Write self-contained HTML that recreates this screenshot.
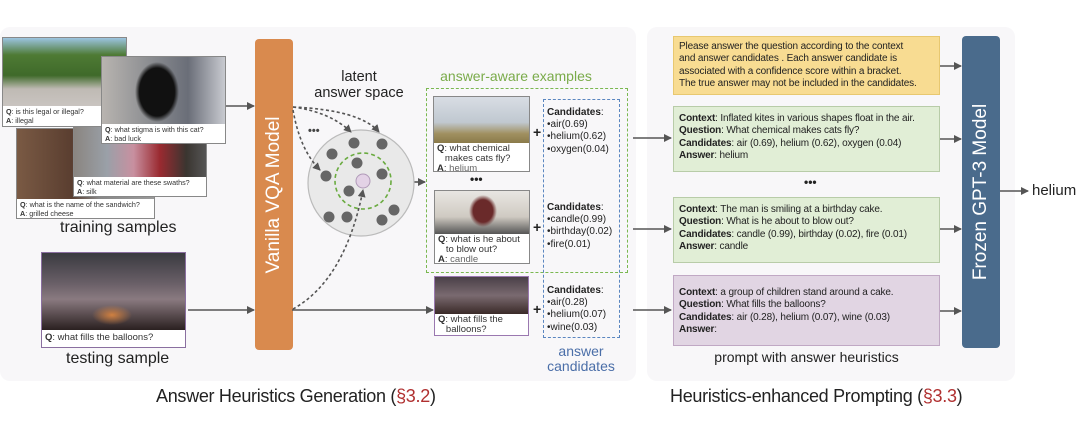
<!DOCTYPE html>
<html><head><meta charset="utf-8"><style>
*{margin:0;padding:0;box-sizing:border-box}
body{width:1080px;height:434px;background:#fff;position:relative;overflow:hidden;font-family:"Liberation Sans",Arial,sans-serif;color:#222}
.a{position:absolute}
.ph{position:absolute;border:1.5px solid #888;background:#fff;overflow:hidden}
.ph .img{position:absolute;left:0;top:0;right:0}
.ph .t{position:absolute;left:3px;font-size:7.2px;line-height:8.5px;color:#333;white-space:nowrap}
.box{position:absolute;font-size:10px;line-height:12.4px;padding:6px 5px;color:#222;white-space:nowrap;letter-spacing:-0.15px}
.bar{position:absolute;color:#fff;border-radius:4px}
.bar span{position:absolute;left:50%;top:50%;transform:translate(-50%,-50%) rotate(-90deg);white-space:nowrap;font-size:19px}
.cand{position:absolute;font-size:10px;line-height:12.2px;color:#222}
</style></head><body>
<div class="a" style="left:0;top:27px;width:636px;height:354px;background:#f8f7f9;border-radius:10px"></div>
<div class="a" style="left:647px;top:27px;width:368px;height:354px;background:#f8f7f9;border-radius:10px"></div>

<div class="ph" style="left:2px;top:37px;width:125px;height:90px"><div class="img" style="height:68px;background:linear-gradient(180deg,#9cc4e0 0%,#4e7a34 25%,#3f6a2a 55%,#bfbab4 75%,#c9c4c0 100%)"></div><div class="t" style="top:70px"><b>Q</b>: is this legal or illegal?<br><b>A</b>: illegal</div></div>
<div class="ph" style="left:16px;top:128px;width:139px;height:91px"><div class="img" style="height:70px;background:linear-gradient(90deg,#7a5a44,#5a3e30 40%,#888 60%,#9a9a9a)"></div><div class="t" style="top:72px"><b>Q</b>: what is the name of the sandwich?<br><b>A</b>: grilled cheese</div></div>
<div class="ph" style="left:73px;top:126px;width:134px;height:71px"><div class="img" style="height:50px;background:linear-gradient(90deg,#8a8580,#9aa0a8 25%,#c890a0 45%,#9a2a30 65%,#3a3530 85%,#555)"></div><div class="t" style="top:52px"><b>Q</b>: what material are these swaths?<br><b>A</b>: silk</div></div>
<div class="ph" style="left:101px;top:56px;width:125px;height:88px"><div class="img" style="height:67px;background:radial-gradient(ellipse 22px 30px at 55px 35px,#111 80%,transparent 100%),linear-gradient(90deg,#b8b4b0,#8a8c90 40%,#6a6e78 70%,#c8cad0)"></div><div class="t" style="top:69px"><b>Q</b>: what stigma is with this cat?<br><b>A</b>: bad luck</div></div>
<div class="a" style="left:60px;top:219px;font-size:16px">training samples</div>

<div class="ph" style="left:41px;top:252px;width:145px;height:96px;border-color:#8a6fa0"><div class="img" style="height:77px;background:radial-gradient(ellipse 20px 10px at 70px 62px,#d08040,transparent),linear-gradient(180deg,#3a3a40,#6a6068 40%,#8a7a80 60%,#2a2020)"></div><div class="t" style="top:79px;font-size:9.5px;line-height:11px"><b>Q</b>: what fills the balloons?</div></div>
<div class="a" style="left:66px;top:350px;font-size:16px">testing sample</div>

<div class="bar" style="left:255px;top:39px;width:38px;height:311px;background:#d98a4e"><span>Vanilla VQA Model</span></div>

<div class="a" style="left:310px;top:69px;width:98px;text-align:center;font-size:14.5px;line-height:16px">latent<br>answer space</div>

<div class="a" style="left:426px;top:68px;width:180px;text-align:center;font-size:14px;color:#7aab4a">answer-aware examples</div>

<div class="ph" style="left:433px;top:96px;width:97px;height:76px"><div class="img" style="height:46px;background:linear-gradient(180deg,#d8dde4,#c0c8d0 55%,#a09060 80%,#8a7a4a)"></div><div class="t" style="top:47px;font-size:9.5px;line-height:10px"><b>Q</b>: what chemical<br>&nbsp;&nbsp;&nbsp;makes cats fly?<br><b>A</b>: <span style="color:#666;text-decoration:underline">helium</span></div></div>
<div class="a" style="left:470px;top:172px;font-size:12px;font-weight:bold">•••</div>
<div class="ph" style="left:434px;top:190px;width:96px;height:74px"><div class="img" style="height:43px;background:radial-gradient(ellipse 14px 16px at 48px 20px,#6a2a2a 70%,transparent),linear-gradient(180deg,#e8e6e2,#cfcac2 60%,#555 100%)"></div><div class="t" style="top:44px;font-size:9.5px;line-height:10px"><b>Q</b>: what is he about<br>&nbsp;&nbsp;&nbsp;to blow out?<br><b>A</b>: <span style="color:#666;text-decoration:underline">candle</span></div></div>
<div class="ph" style="left:434px;top:276px;width:95px;height:60px;border-color:#9a78b0"><div class="img" style="height:37px;background:linear-gradient(180deg,#4a4048,#7a6a70 50%,#3a2a28)"></div><div class="t" style="top:38px;font-size:9.5px;line-height:10px"><b>Q</b>: what fills the<br>&nbsp;&nbsp;&nbsp;balloons?</div></div>

<div class="a" style="left:426px;top:88px;width:202px;height:185px;border:1.5px dashed #7ab850"></div>
<div class="a" style="left:543px;top:99px;width:77px;height:239px;border:1.5px dashed #5a86c0"></div>

<div class="cand" style="left:547px;top:107px"><b>Candidates</b>:<br>•air(0.69)<br>•helium(0.62)<br>•oxygen(0.04)</div>
<div class="cand" style="left:547px;top:202px"><b>Candidates</b>:<br>•candle(0.99)<br>•birthday(0.02)<br>•fire(0.01)</div>
<div class="cand" style="left:547px;top:285px"><b>Candidates</b>:<br>•air(0.28)<br>•helium(0.07)<br>•wine(0.03)</div>
<div class="a" style="left:533px;top:124px;font-size:14px;font-weight:bold">+</div>
<div class="a" style="left:533px;top:219px;font-size:14px;font-weight:bold">+</div>
<div class="a" style="left:533px;top:301px;font-size:14px;font-weight:bold">+</div>
<div class="a" style="left:540px;top:344px;width:82px;text-align:center;font-size:14px;line-height:15px;color:#4a6ea8">answer<br>candidates</div>

<div class="box" style="left:673px;top:36px;width:267px;height:59px;background:#f8dc92;border:1px solid #e8c870;padding:4px 5px;line-height:12.4px">Please answer the question according to the context<br>and answer candidates . Each answer candidate is<br>associated with a confidence score within a bracket.<br>The true answer may not be included in the candidates.</div>
<div class="box" style="left:673px;top:106px;width:267px;height:66px;background:#e1eed6;border:1px solid #b8cca8"><b>Context</b>: Inflated kites in various shapes float in the air.<br><b>Question</b>: What chemical makes cats fly?<br><b>Candidates</b>: air (0.69), helium (0.62), oxygen (0.04)<br><b>Answer</b>: helium</div>
<div class="a" style="left:804px;top:175px;font-size:12px;font-weight:bold">•••</div>
<div class="box" style="left:673px;top:197px;width:267px;height:66px;background:#e1eed6;border:1px solid #b8cca8"><b>Context</b>: The man is smiling at a birthday cake.<br><b>Question</b>: What is he about to blow out?<br><b>Candidates</b>: candle (0.99), birthday (0.02), fire (0.01)<br><b>Answer</b>: candle</div>
<div class="box" style="left:673px;top:275px;width:267px;height:71px;background:#e1d5e3;border:1px solid #c0a8c4;padding-top:11px"><b>Context</b>: a group of children stand around a cake.<br><b>Question</b>: What fills the balloons?<br><b>Candidates</b>: air (0.28), helium (0.07), wine (0.03)<br><b>Answer</b>:</div>
<div class="a" style="left:673px;top:349px;width:267px;text-align:center;font-size:14px">prompt with answer heuristics</div>

<div class="bar" style="left:962px;top:36px;width:38px;height:312px;background:#4a6b8c"><span>Frozen GPT-3 Model</span></div>
<div class="a" style="left:1032px;top:182px;font-size:15px">helium</div>

<div class="a" style="left:156px;top:386px;font-size:18px;letter-spacing:-0.3px">Answer Heuristics Generation (<span style="color:#b03030">§3.2</span>)</div>
<div class="a" style="left:670px;top:386px;font-size:18px;letter-spacing:-0.3px">Heuristics-enhanced Prompting (<span style="color:#b03030">§3.3</span>)</div>

<svg class="a" style="left:0;top:0" width="1080" height="434">
<defs><marker id="ah" markerWidth="8" markerHeight="8" refX="7" refY="4" orient="auto" markerUnits="userSpaceOnUse"><path d="M0,0L8,4L0,8z" fill="#555"/></marker></defs>
<g stroke="#555" stroke-width="1.6" fill="none" marker-end="url(#ah)">
<line x1="226" y1="106" x2="254" y2="106"/>
<line x1="188" y1="310" x2="254" y2="310"/>
<line x1="414" y1="182" x2="425" y2="182"/>
<line x1="292" y1="310" x2="433" y2="310"/>
<line x1="633" y1="138" x2="671" y2="138"/>
<line x1="633" y1="229" x2="671" y2="229"/>
<line x1="633" y1="310" x2="671" y2="310"/>
<line x1="940" y1="66" x2="961" y2="66"/>
<line x1="940" y1="139" x2="961" y2="139"/>
<line x1="940" y1="229" x2="961" y2="229"/>
<line x1="940" y1="311" x2="961" y2="311"/>
<line x1="1000" y1="191" x2="1028" y2="191"/>
</g>
<circle cx="361" cy="183" r="53" fill="#e9e9e9" stroke="#bbb" stroke-width="1.2"/>
<circle cx="363" cy="181" r="28" fill="none" stroke="#6aab40" stroke-width="1.6" stroke-dasharray="4,3"/>
<circle cx="363" cy="181" r="7" fill="#e3d2e6" stroke="#b09ab8"/>
<g fill="#666">
<circle cx="354" cy="143" r="5.5"/><circle cx="382" cy="144" r="5.5"/><circle cx="332" cy="154" r="5.5"/><circle cx="357" cy="163" r="5.5"/><circle cx="382" cy="174" r="5.5"/><circle cx="326" cy="176" r="5.5"/><circle cx="349" cy="191" r="5.5"/><circle cx="394" cy="210" r="5.5"/><circle cx="329" cy="217" r="5.5"/><circle cx="347" cy="217" r="5.5"/><circle cx="382" cy="220" r="5.5"/>
</g>
<g stroke="#555" stroke-width="1.6" fill="none" stroke-dasharray="3,2.5" marker-end="url(#ah)">
<path d="M293,107 Q330,112 351,132"/>
<path d="M293,107 Q360,110 379,132"/>
<path d="M293,110 Q300,150 320,170"/>
<path d="M293,309 Q345,280 363,190"/>
</g>
<text x="308" y="134" font-family="Liberation Sans" font-size="11" font-weight="bold" fill="#444">•••</text>
</svg>
</body></html>
